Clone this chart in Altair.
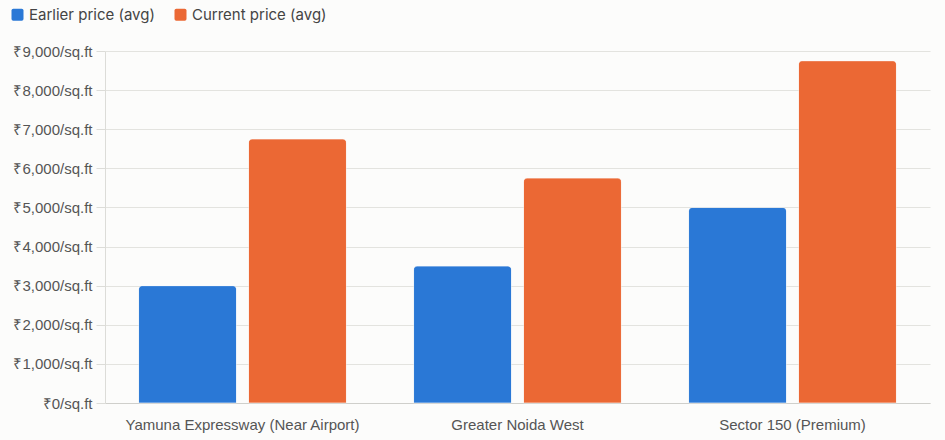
import altair as alt
import pandas as pd

# Average land/flat prices per locality, earlier vs current
localities = ["Yamuna Expressway (Near Airport)", "Greater Noida West", "Sector 150 (Premium)"]
series = ["Earlier price (avg)", "Current price (avg)"]
earlier = [3000, 3500, 5000]
current = [6750, 5750, 8750]

rows = []
for loc, e, c in zip(localities, earlier, current):
    rows.append({"locality": loc, "series": series[0], "price": e})
    rows.append({"locality": loc, "series": series[1], "price": c})
df = pd.DataFrame(rows)

rounded_square = (
    "M-0.7,-1 L0.7,-1 Q1,-1 1,-0.7 L1,0.7 Q1,1 0.7,1 L-0.7,1 "
    "Q-1,1 -1,0.7 L-1,-0.7 Q-1,-1 -0.7,-1 Z"
)

chart = (
    alt.Chart(df)
    .mark_bar(cornerRadiusTopLeft=4, cornerRadiusTopRight=4,
              stroke="white", strokeOpacity=0.35, strokeWidth=1)
    .encode(
        x=alt.X(
            "locality:N",
            sort=localities,
            title=None,
            scale=alt.Scale(paddingInner=0.244, paddingOuter=0.122),
            axis=alt.Axis(labelAngle=0, ticks=False, labelPadding=14, labelLimit=0,
                          domainColor="#cfcfcb", labelFont="Liberation Sans",
                          labelFontSize=15, labelColor="#555555"),
        ),
        xOffset=alt.XOffset("series:N", sort=series,
                            scale=alt.Scale(paddingInner=0.109, paddingOuter=0)),
        y=alt.Y(
            "price:Q",
            title=None,
            scale=alt.Scale(domain=[0, 9000], nice=False),
            axis=alt.Axis(
                values=list(range(0, 9001, 1000)),
                labelExpr="'₹' + format(datum.value, ',') + '/sq.ft'",
                labelFont="Liberation Sans", labelFontSize=15, labelColor="#555555",
                tickSize=9, tickColor="#dcdcd8", labelPadding=4, labelLimit=0,
                domainColor="#dcdcd8", gridColor="#e3e3df",
            ),
        ),
        color=alt.Color(
            "series:N",
            sort=series,
            scale=alt.Scale(domain=series, range=["#2a78d6", "#eb6834"]),
            legend=alt.Legend(
                title=None, orient="none", legendX=-95, legendY=-44,
                direction="horizontal", symbolType=rounded_square,
                symbolSize=144, symbolStrokeWidth=0, symbolOpacity=1,
                labelFont="Inter", labelFontSize=15, labelColor="#444444",
                labelOffset=4, columnPadding=18, labelLimit=0,
            ),
        ),
    )
    .properties(
        width=825, height=352,
        padding={"left": 105, "top": 51, "right": 15, "bottom": 37},
        autosize=alt.AutoSizeParams(type="none"),
        background="#fcfcfb",
    )
    .configure_view(stroke=None)
)

chart.save("out.html", embed_options={"renderer": "svg", "actions": False})
